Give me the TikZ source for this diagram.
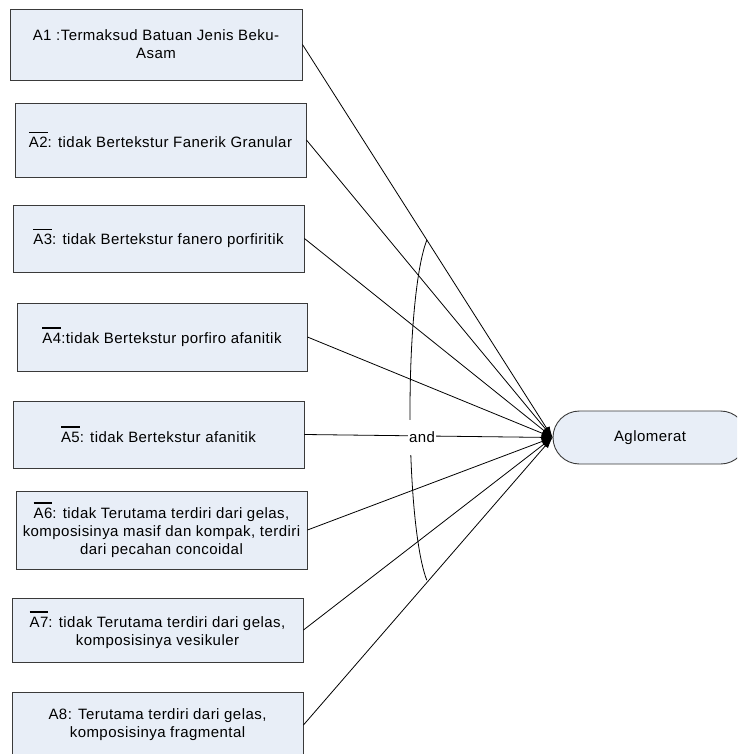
\documentclass[tikz,border=0pt]{standalone}
\usepackage{fontspec}
\setmainfont{Liberation Sans}[LetterSpace=3]
\usetikzlibrary{arrows.meta}
\definecolor{boxfill}{RGB}{232,238,247}
\definecolor{boxline}{RGB}{58,58,58}
% negated premise label: a bar set above the name
\newcommand\barred[1]{\leavevmode\vbox{\hrule height 1.1pt\kern 4.5pt\hbox{#1}}}
\begin{document}
\begin{tikzpicture}[x=1pt,y=1pt,
  cond/.style={draw=boxline, fill=boxfill, line width=0.9pt, inner sep=0pt,
               align=center, font=\fontsize{15}{18}\selectfont},
  goal/.style={draw=boxline, fill=boxfill, line width=0.9pt, rounded corners=26.5pt,
               minimum width=194pt, minimum height=53pt, inner sep=0pt,
               font=\fontsize{15}{18}\selectfont},
  link/.style={line width=0.8pt, -{Latex[length=11pt,width=7pt]}},
  andlabel/.style={fill=white, inner xsep=1.5pt, minimum height=35pt,
               font=\fontsize{15}{18}\selectfont}]
\useasboundingbox (0,0) rectangle (737,-754);
\clip (0,0) rectangle (737,-754);

% premises
\node[cond, minimum width=292pt, minimum height=71pt] (a1) at (156,-44.5)
  {A1 :Termaksud Batuan Jenis Beku-\\Asam};
\node[cond, minimum width=291pt, minimum height=74pt] (a2) at (160.5,-140)
  {\barred{A2}: tidak Bertekstur Fanerik Granular};
\node[cond, minimum width=291pt, minimum height=67pt] (a3) at (158.5,-238.5)
  {\barred{A3}: tidak Bertekstur fanero porfiritik};
\node[cond, minimum width=290pt, minimum height=68pt] (a4) at (162,-337)
  {\barred{A4}:tidak Bertekstur porfiro afanitik};
\node[cond, minimum width=291pt, minimum height=67pt] (a5) at (158.5,-434.5)
  {\barred{A5}: tidak Bertekstur afanitik};
\node[cond, minimum width=291pt, minimum height=78pt] (a6) at (161.5,-530)
  {\barred{A6}: tidak Terutama terdiri dari gelas,\\komposisinya masif dan kompak, terdiri\\dari pecahan concoidal};
\node[cond, minimum width=291pt, minimum height=64pt] (a7) at (157.5,-630)
  {\barred{A7}: tidak Terutama terdiri dari gelas,\\komposisinya vesikuler};
\node[cond, minimum width=291pt, minimum height=66pt] (a8) at (157.5,-725)
  {A8: Terutama terdiri dari gelas,\\komposisinya fragmental};

% conclusion
\node[goal] (agl) at (650,-437.5) {Aglomerat};

% rule connectors
\foreach \p in {a1,a2,a3,a4,a5,a6,a7,a8}
  \draw[link] (\p.east) -- (agl.west);

% conjunction arc spanning all connectors
\draw[line width=0.8pt] (426.8,-240.2)
  arc[start angle=109.2, end angle=250.8, x radius=25, y radius=180];
\node[andlabel] (andl) at (422,-437) {and};
\end{tikzpicture}
\end{document}
